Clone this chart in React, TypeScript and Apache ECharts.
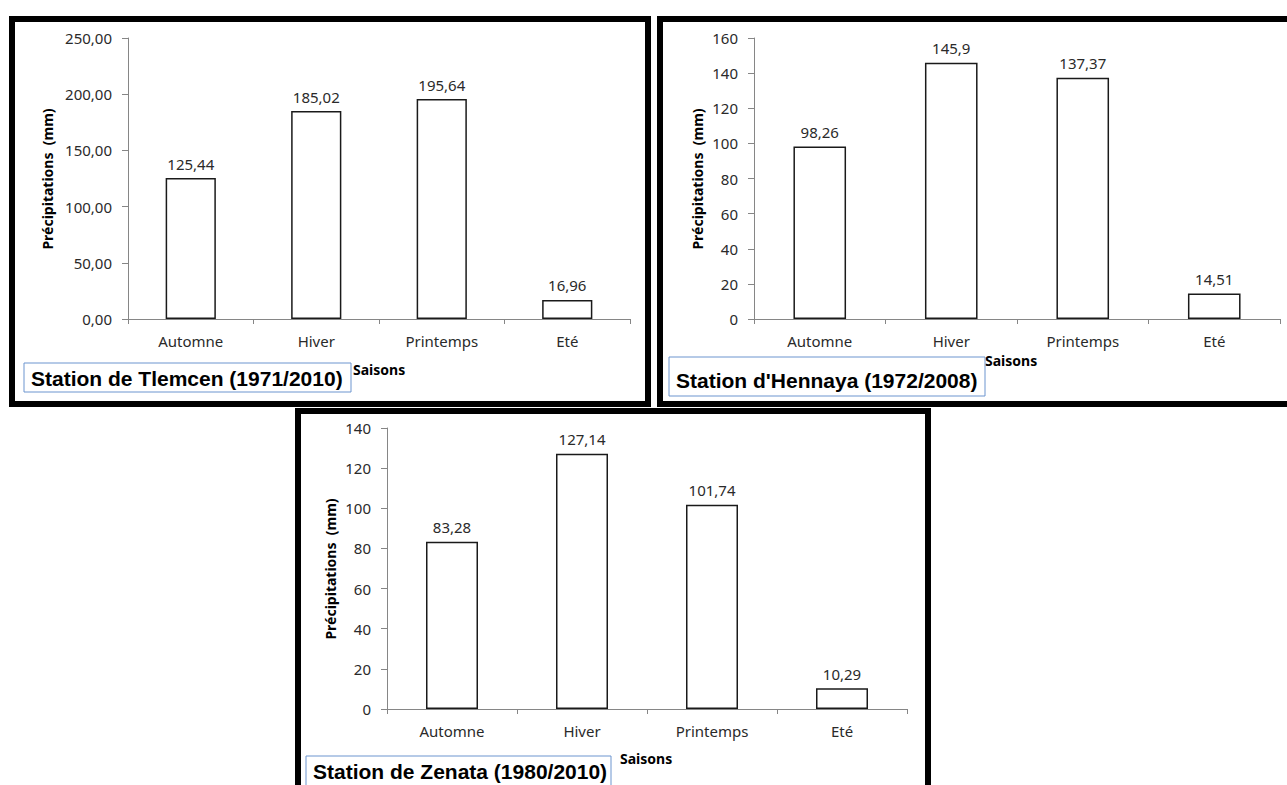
import React, { useEffect, useRef } from "react";
import * as echarts from "echarts";

// Seasonal precipitation (mm) at three stations
const seasons = ["Automne", "Hiver", "Printemps", "Eté"];
const tlemcen = [125.44, 185.02, 195.64, 16.96];
const hennaya = [98.26, 145.9, 137.37, 14.51];
const zenata = [83.28, 127.14, 101.74, 10.29];

const stationTitles = [
  "Station de Tlemcen (1971/2010)",
  "Station d'Hennaya (1972/2008)",
  "Station de Zenata (1980/2010)",
];
const yMax = [250, 160, 140];
const yStep = [50, 20, 20];
const yDecimals = [2, 0, 0];

const AXIS_NAME = "Précipitations  (mm)";
const X_NAME = "Saisons";

const LABEL_FONT = "Noto Sans";
const TITLE_FONT = "Liberation Sans";
const AXIS_COLOR = "#868686";
const TEXT_COLOR = "#2a2a2a";

const fmtComma = (v: number) => String(v).replace(".", ",");

export default function App() {
  const ref = useRef<HTMLDivElement>(null);

  useEffect(() => {
    if (!ref.current) return;
    const chart = echarts.init(ref.current, undefined, { renderer: "svg" });

    const grids = [
      { left: 128, top: 38, width: 502, height: 281 },
      { left: 754, top: 38, width: 526, height: 281 },
      { left: 387, top: 428, width: 520, height: 281 },
    ];
    const datasets = [tlemcen, hennaya, zenata];

    const xAxis = grids.map((_, i) => ({
      type: "category",
      gridIndex: i,
      data: seasons,
      axisLine: { lineStyle: { color: AXIS_COLOR, width: 1 } },
      axisTick: { show: true, length: 5, lineStyle: { color: AXIS_COLOR } },
      axisLabel: {
        color: TEXT_COLOR,
        fontSize: 15,
        fontFamily: LABEL_FONT,
        margin: 14,
      },
    }));

    const yAxis = grids.map((_, i) => ({
      type: "value",
      gridIndex: i,
      min: 0,
      max: yMax[i],
      interval: yStep[i],
      axisLine: { show: true, lineStyle: { color: AXIS_COLOR, width: 1 } },
      axisTick: { show: true, length: 6, lineStyle: { color: AXIS_COLOR } },
      splitLine: { show: false },
      axisLabel: {
        color: TEXT_COLOR,
        fontSize: 15,
        fontFamily: LABEL_FONT,
        margin: 16,
        formatter: (v: number) => v.toFixed(yDecimals[i]).replace(".", ","),
      },
    }));

    const series = datasets.map((d, i) => ({
      type: "bar",
      xAxisIndex: i,
      yAxisIndex: i,
      data: d,
      barWidth: "40%",
      itemStyle: { color: "#ffffff", borderColor: "#1a1a1a", borderWidth: 1.5 },
      label: {
        show: true,
        position: "top",
        distance: 7,
        color: TEXT_COLOR,
        fontSize: 15,
        fontFamily: LABEL_FONT,
        formatter: (p: any) => fmtComma(p.value),
      },
    }));

    // Panel frames, axis titles and station captions
    const frames = [
      { x: 12, y: 19, width: 636, height: 385 },
      { x: 660, y: 19, width: 700, height: 385 },
      { x: 298, y: 411, width: 630, height: 420 },
    ];
    const yNamePos = [
      [47, 179],
      [697, 179],
      [330, 569],
    ];
    const xNamePos = [
      [353, 369],
      [985, 360],
      [620, 758],
    ];
    const captionBox = [
      { x: 24, y: 363, width: 327, height: 29 },
      { x: 669, y: 357, width: 316, height: 39 },
      { x: 306, y: 756, width: 305, height: 40 },
    ];
    const captionText = [
      [31, 378],
      [676, 380],
      [313, 771],
    ];

    const graphic: any[] = [];
    frames.forEach((f) => {
      graphic.push({
        type: "rect",
        shape: f,
        style: { fill: "none", stroke: "#000", lineWidth: 6 },
        z: 10,
      });
    });
    yNamePos.forEach(([x, y]) => {
      graphic.push({
        type: "text",
        x,
        y,
        rotation: Math.PI / 2,
        style: {
          text: AXIS_NAME,
          fill: "#000",
          font: `bold 14px "${LABEL_FONT}"`,
          align: "center",
          verticalAlign: "middle",
        },
        z: 10,
      });
    });
    xNamePos.forEach(([x, y]) => {
      graphic.push({
        type: "text",
        x,
        y,
        style: {
          text: X_NAME,
          fill: "#000",
          font: `bold 14px "${LABEL_FONT}"`,
          align: "left",
          verticalAlign: "middle",
        },
        z: 10,
      });
    });
    captionBox.forEach((b, i) => {
      graphic.push({
        type: "rect",
        shape: b,
        style: { fill: "#fff", stroke: "#6d95cf", lineWidth: 1 },
        z: 11,
      });
      graphic.push({
        type: "text",
        x: captionText[i][0],
        y: captionText[i][1],
        style: {
          text: stationTitles[i],
          fill: "#000",
          font: `bold 21px "${TITLE_FONT}"`,
          align: "left",
          verticalAlign: "middle",
        },
        z: 12,
      });
    });

    chart.setOption({
      animation: false,
      backgroundColor: "#ffffff",
      grid: grids,
      xAxis,
      yAxis,
      series,
      graphic,
    });

    return () => chart.dispose();
  }, []);

  return (
    <div
      ref={ref}
      style={{ position: "absolute", left: 0, top: 0, width: 1287, height: 785 }}
    />
  );
}
